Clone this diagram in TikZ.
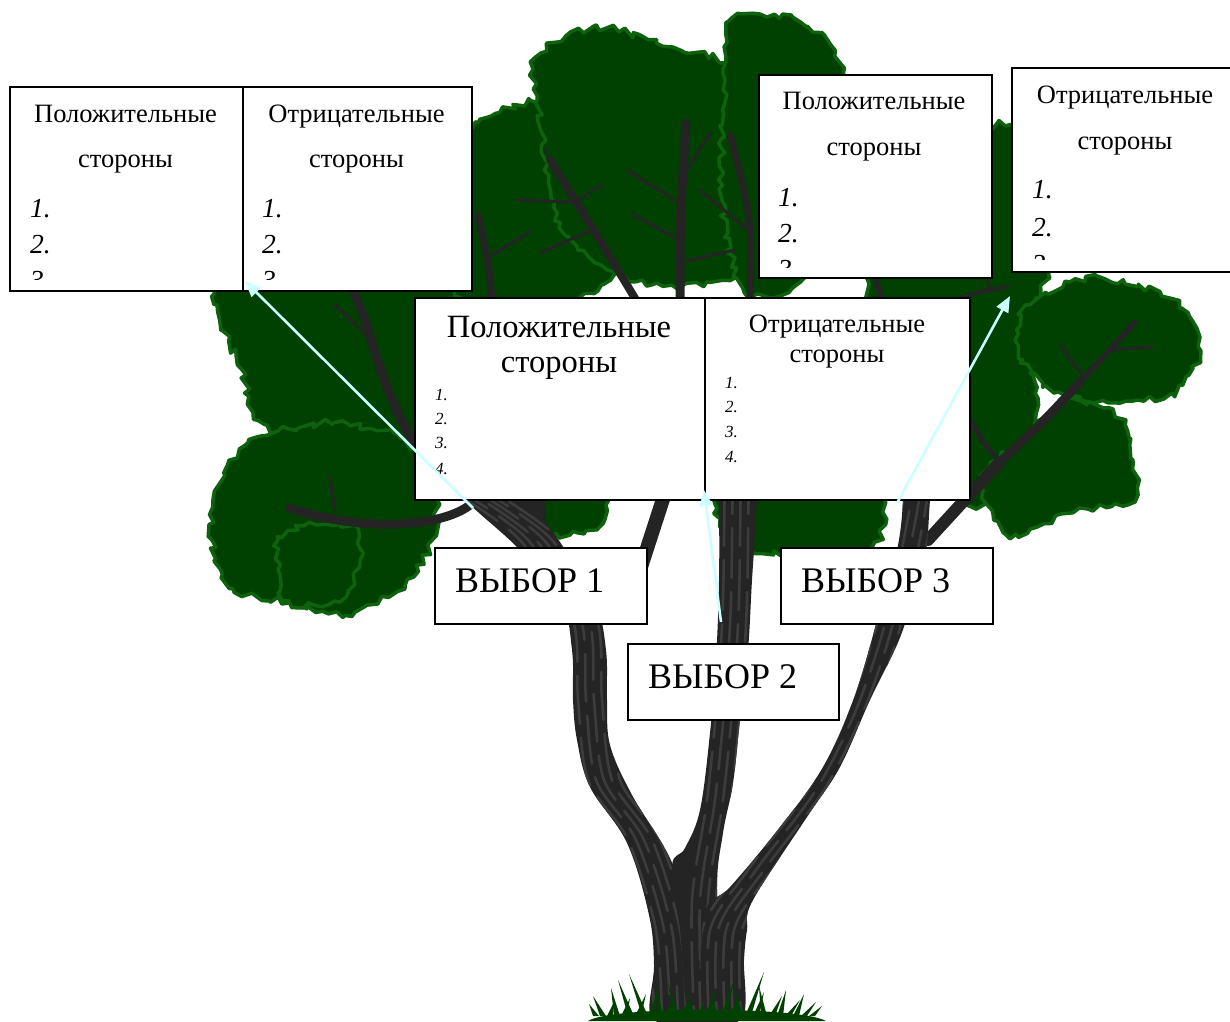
\documentclass[tikz,border=0pt]{standalone}
\usepackage{fontspec}
\setmainfont{Liberation Serif}
\usetikzlibrary{arrows.meta,decorations.pathmorphing}

\definecolor{leaf}{RGB}{0,64,0}
\definecolor{leafedge}{RGB}{14,98,14}
\definecolor{bark}{RGB}{36,36,36}
\definecolor{barklight}{RGB}{60,60,60}
\definecolor{arrowc}{RGB}{204,255,255}

\tikzset{
  blob/.style={fill=leaf, draw=leafedge, line width=3.5pt, line join=round,
    decorate, decoration={random steps, segment length=6pt, amplitude=3.8pt}},
  twig/.style={draw=bark, line cap=round, line join=round},
  streak/.style={draw=barklight, line width=2.6pt, line cap=round},
  panel/.style={draw=black, fill=white, line width=2pt, rectangle, inner sep=0pt, anchor=north west},
  headA/.style={font=\fontsize{26.5}{30}\selectfont, anchor=base, inner sep=0pt},
  headB/.style={font=\fontsize{32.5}{36}\selectfont, anchor=base, inner sep=0pt},
  numA/.style={font=\fontsize{27.5}{30}\selectfont\itshape, anchor=base west, inner sep=0pt},
  numB/.style={font=\fontsize{17}{18}\selectfont\itshape, anchor=base west, inner sep=0pt},
  choice/.style={font=\fontsize{36}{40}\selectfont, anchor=base west, inner sep=0pt},
  conn/.style={draw=arrowc, line width=2.6pt, -{Triangle[length=16pt,width=13pt]}}
}

\begin{document}
\begin{tikzpicture}[x=1pt,y=-1pt]
\useasboundingbox (0,0) rectangle (1230,1021);
\pgfmathsetseed{12}

% ---------- canopy ----------
\path[blob] plot[smooth cycle] coordinates {(215,250) (300,228) (420,238) (480,300) (470,420) (400,452) (300,440) (258,420) (242,370) (220,320)};
\path[blob] plot[smooth cycle] coordinates {(465,140) (500,112) (540,104) (600,150) (610,280) (520,305) (455,290)};
\path[blob] plot[smooth cycle] coordinates {(532,62) (567,35) (607,28) (673,47) (723,63) (760,110) (770,200) (740,272) (650,285) (565,235) (545,160) (537,100)};
\path[blob] plot[smooth cycle] coordinates {(728,22) (760,14) (800,22) (830,45) (850,100) (852,200) (800,282) (745,292) (722,200) (725,80)};
\path[blob] plot[smooth cycle] coordinates {(850,200) (900,150) (960,135) (1010,125) (1045,165) (1050,260) (1030,330) (1035,420) (1010,480) (970,505) (925,460) (870,300)};
\path[blob] plot[smooth cycle] coordinates {(700,400) (880,400) (885,500) (872,545) (800,553) (735,545) (705,480)};
\path[blob] plot[smooth cycle] coordinates {(540,420) (610,420) (606,505) (595,528) (550,535) (535,500)};
\path[blob] plot[smooth cycle] coordinates {(1017,330) (1030,305) (1070,282) (1105,279) (1160,292) (1188,313) (1198,347) (1193,368) (1172,393) (1120,403) (1070,395) (1043,387) (1023,360)};
\path[blob] plot[smooth cycle] coordinates {(1060,400) (1103,408) (1125,425) (1133,460) (1137,488) (1128,503) (1073,513) (1037,527) (1010,538) (994,520) (982,480) (1000,458) (1030,435)};
\path[blob] plot[smooth cycle] coordinates {(258,437) (333,423) (400,438) (435,480) (432,540) (405,585) (345,615) (290,603) (233,588) (212,540) (213,500) (228,465)};
\path[blob] plot[smooth cycle] coordinates {(278,537) (315,525) (356,527) (360,560) (348,592) (318,606) (283,600) (278,570)};

% ---------- branches ----------
\draw[twig, line width=9pt] (470,505) .. controls (440,528) and (360,532) .. (290,508);
\draw[twig, line width=3pt] (335,512) -- (330,478);
\draw[twig, line width=9pt] (432,470) .. controls (395,420) and (380,370) .. (365,320) -- (352,288);
\draw[twig, line width=3pt] (372,340) -- (335,305);
\draw[twig, line width=7pt] (492,300) .. controls (488,260) .. (478,215);
\draw[twig, line width=3pt] (492,255) -- (530,232);
\draw[twig, line width=8pt] (636,300) .. controls (600,240) and (575,200) .. (550,160);
\draw[twig, line width=3pt] (574,202) -- (517,200);
\draw[twig, line width=2.5pt] (574,202) -- (602,185);
\draw[twig, line width=3pt] (592,230) -- (540,253);
\draw[twig, line width=2.5pt] (558,175) -- (544,148);
\draw[twig, line width=9pt] (680,300) .. controls (680,220) .. (686,123);
\draw[twig, line width=3pt] (683,205) -- (627,170);
\draw[twig, line width=3pt] (684,175) -- (710,133);
\draw[twig, line width=3pt] (681,240) -- (633,215);
\draw[twig, line width=3pt] (682,262) -- (735,250);
\draw[twig, line width=7pt] (750,300) .. controls (752,220) .. (730,135);
\draw[twig, line width=3pt] (748,230) -- (700,190);
\draw[twig, line width=6pt] (882,300) -- (872,268);
\draw[twig, line width=4pt] (960,298) .. controls (985,290) .. (1008,287);
\draw[twig, line width=2.5pt] (990,292) -- (985,272);
\draw[twig, line width=12pt] (928,540) .. controls (960,505) .. (1000,462);
\draw[twig, line width=9pt] (1000,462) .. controls (1045,420) .. (1080,382);
\draw[twig, line width=6pt] (1080,382) .. controls (1110,350) .. (1135,322);
\draw[twig, line width=3pt] (1083,376) -- (1060,345);
\draw[twig, line width=3pt] (1108,350) -- (1153,347);
\draw[twig, line width=5pt] (1000,462) .. controls (985,445) .. (970,420);
\draw[twig, line width=14pt] (640,570) -- (664,496);
\fill[bark] (518,548) -- (518,490) -- (544,490) -- (548,548) -- cycle;

% ---------- trunk limbs ----------
\fill[bark] plot[smooth cycle, tension=0.6] coordinates {(652,1018) (654,965) (649,915) (627,843) (590,787) (577,740) (573,700) (572,650) (560,595) (518,548) (478,512) (455,490) (470,470) (498,486) (535,512) (562,545) (595,600) (606,650) (607,700) (610,745) (632,795) (673,865) (690,940) (697,1018)};
\begin{scope}
\clip plot[smooth cycle, tension=0.6] coordinates {(652,1018) (654,965) (649,915) (627,843) (590,787) (577,740) (573,700) (572,650) (560,595) (518,548) (478,512) (455,490) (470,470) (498,486) (535,512) (562,545) (595,600) (606,650) (607,700) (610,745) (632,795) (673,865) (690,940) (697,1018)};
\foreach \d in {-20,-12,-4,4,12,20}
  \draw[streak, xshift=\d pt, dash pattern=on 48pt off 14pt, dash phase=5*\d+120] plot[smooth] coordinates {(674,1018) (668,930) (640,840) (600,780) (590,700) (585,620) (540,540) (470,490)};
\end{scope}
\fill[bark] plot[smooth cycle, tension=0.6] coordinates {(690,1018) (680,930) (672,866) (685,848) (700,810) (710,733) (716,660) (719,580) (719,500) (718,440) (738,430) (757,440) (757,500) (752,580) (748,650) (740,720) (733,783) (723,833) (717,893) (725,1018)};
\begin{scope}
\clip plot[smooth cycle, tension=0.6] coordinates {(690,1018) (680,930) (672,866) (685,848) (700,810) (710,733) (716,660) (719,580) (719,500) (718,440) (738,430) (757,440) (757,500) (752,580) (748,650) (740,720) (733,783) (723,833) (717,893) (725,1018)};
\foreach \d in {-13,-5,3,11}
  \draw[streak, xshift=\d pt, dash pattern=on 50pt off 14pt, dash phase=4*\d+90] plot[smooth] coordinates {(707,1018) (705,900) (720,800) (730,700) (736,600) (738,440)};
\end{scope}
\fill[bark] plot[smooth cycle, tension=0.6] coordinates {(742,1018) (744,960) (747,930) (753,900) (807,817) (840,767) (870,700) (899,640) (915,590) (926,550) (930,500) (935,440) (915,430) (903,440) (903,500) (897,550) (880,610) (855,695) (823,767) (780,827) (730,887) (707,907) (700,960) (700,1018)};
\begin{scope}
\clip plot[smooth cycle, tension=0.6] coordinates {(742,1018) (744,960) (747,930) (753,900) (807,817) (840,767) (870,700) (899,640) (915,590) (926,550) (930,500) (935,440) (915,430) (903,440) (903,500) (897,550) (880,610) (855,695) (823,767) (780,827) (730,887) (707,907) (700,960) (700,1018)};
\foreach \d in {-20,-12,-4,4,12,20}
  \draw[streak, xshift=\d pt, dash pattern=on 46pt off 14pt, dash phase=5*\d+110] plot[smooth] coordinates {(721,1018) (722,930) (760,870) (820,790) (860,710) (890,620) (915,500) (918,440)};
\end{scope}

% ---------- grass ----------
\fill[leaf] (588,1021) .. controls (610,1006) and (800,1006) .. (826,1021) -- cycle;
\foreach \x/\h/\l in {596/12/-7, 603/20/-10, 610/14/4, 617/28/-6, 624/18/6, 631/36/-13, 638/22/8, 645/42/-16, 652/25/5, 660/30/-4, 668/20/6, 676/33/-8, 684/18/5, 692/26/-6, 700/15/4, 708/28/8, 716/20/-5, 724/36/10, 732/18/6, 740/30/-6, 748/44/16, 756/24/8, 764/30/-5, 772/20/10, 780/26/6, 788/16/12, 796/22/8, 804/14/12, 812/10/10}
  \fill[leaf] (\x-3,1016) -- (\x+\l,1016-\h) -- (\x+3,1016) -- cycle;

% ---------- panels ----------
\node[panel, minimum width=233pt, minimum height=204pt] (tlP) at (9,86) {};
\node[panel, minimum width=229pt, minimum height=204pt] (tlN) at (242,86) {};
\node[panel, minimum width=233pt, minimum height=203pt] (trP) at (758,74) {};
\node[panel, minimum width=220pt, minimum height=204pt] (trN) at (1011,67) {};
\node[panel, minimum width=290pt, minimum height=202pt] (cP) at (414,297) {};
\node[panel, minimum width=265pt, minimum height=202pt] (cN) at (704,297) {};
\node[panel, minimum width=212pt, minimum height=76pt] (ch1) at (434,547) {};
\node[panel, minimum width=212pt, minimum height=76pt] (ch3) at (780,547) {};
\node[panel, minimum width=211pt, minimum height=76pt] (ch2) at (627,643) {};

% texts, top-left pair
\begin{scope}
\clip (9,86) rectangle (471,279);
\node[headA] (tlP1) at (125.5,122) {Положительные};
\node[headA] (tlP2) at (125.5,167) {стороны};
\node[numA] (tlPa) at (30,217) {1.};
\node[numA] (tlPb) at (30,253) {2.};
\node[numA] (tlPc) at (30,289) {3.};
\node[headA] (tlN1) at (356.5,122) {Отрицательные};
\node[headA] (tlN2) at (356.5,167) {стороны};
\node[numA] (tlNa) at (262,217) {1.};
\node[numA] (tlNb) at (262,253) {2.};
\node[numA] (tlNc) at (262,289) {3.};
\end{scope}
% top-right boxes
\begin{scope}
\clip (758,74) rectangle (991,267);
\node[headA] (trP1) at (874,109) {Положительные};
\node[headA] (trP2) at (874,155) {стороны};
\node[numA] (trPa) at (778,206) {1.};
\node[numA] (trPb) at (778,242) {2.};
\node[numA] (trPc) at (778,278) {3.};
\end{scope}
\begin{scope}
\clip (1011,67) rectangle (1230,259);
\node[headA] (trN1) at (1125,103) {Отрицательные};
\node[headA] (trN2) at (1125,149) {стороны};
\node[numA] (trNa) at (1032,198) {1.};
\node[numA] (trNb) at (1032,236) {2.};
\node[numA] (trNc) at (1032,273) {3.};
\end{scope}
% centre pair
\node[headB] (cP1) at (559,337) {Положительные};
\node[headB] (cP2) at (559,372) {стороны};
\node[numB] (cPa) at (435,400) {1.};
\node[numB] (cPb) at (435,424) {2.};
\node[numB] (cPc) at (435,448.5) {3.};
\node[numB] (cPd) at (435,474) {4.};
\node[headA] (cN1) at (837,332) {Отрицательные};
\node[headA] (cN2) at (837,362) {стороны};
\node[numB] (cNa) at (725,388) {1.};
\node[numB] (cNb) at (725,412.5) {2.};
\node[numB] (cNc) at (725,437) {3.};
\node[numB] (cNd) at (725,462) {4.};
% choices
\node[choice] (t1) at (455,592) {ВЫБОР 1};
\node[choice] (t3) at (801,592) {ВЫБОР 3};
\node[choice] (t2) at (648,688) {ВЫБОР 2};

% ---------- arrows ----------
\coordinate (a1s) at (473,508);
\coordinate (a1e) at (245,281);
\coordinate (a2s) at (721,622);
\coordinate (a2e) at (704,490);
\coordinate (a3s) at (897,503);
\coordinate (a3e) at (1010,296);
\draw[conn] (a1s) -- (a1e);
\draw[conn] (a2s) -- (a2e);
\draw[conn] (a3s) -- (a3e);
\end{tikzpicture}
\end{document}
